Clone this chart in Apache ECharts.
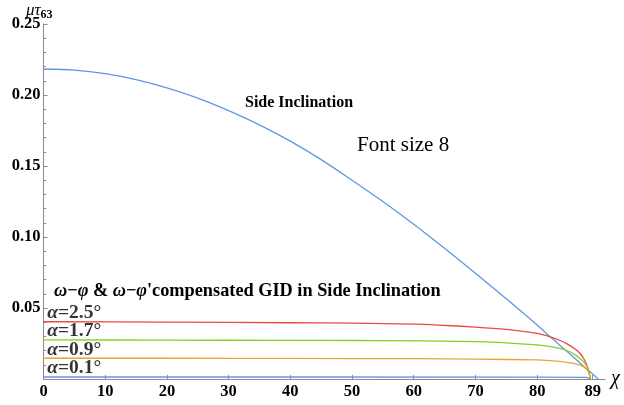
<!DOCTYPE html>
<html>
<head>
<meta charset="utf-8">
<script src="https://cdn.jsdelivr.net/npm/echarts@6/dist/echarts.min.js"></script>
<style>
html,body{margin:0;padding:0;background:#fff;}
#c{width:624px;height:405px;}
</style>
</head>
<body>
<div id="c"></div>
<script>
// ---- data ----
const xTicks = [0, 10, 20, 30, 40, 50, 60, 70, 80, 89];
const yTicks = [0.05, 0.10, 0.15, 0.20, 0.25];

const sideX = [0, 5, 10, 15, 20, 25, 30, 35, 40, 45, 50, 55, 60, 65, 70, 75, 80, 82, 84, 86, 88, 89, 89.9];
const sideY = [0.2183, 0.2175, 0.2150, 0.2108, 0.2050, 0.1978, 0.1890, 0.1790, 0.1675, 0.1545, 0.1400, 0.1250, 0.1090, 0.0920, 0.0745, 0.0565, 0.0380, 0.0302, 0.0225, 0.0150, 0.0070, 0.0035, 0];

const a25X = [0, 20, 40, 50, 60, 64, 70, 75, 80, 82, 84, 85, 86, 86.5, 87, 87.5, 88, 88.3, 88.5, 88.6];
const a25Y = [0.0403, 0.0401, 0.0396, 0.0393, 0.0387, 0.0380, 0.0366, 0.0349, 0.0321, 0.0298, 0.0266, 0.0244, 0.0217, 0.0199, 0.0178, 0.0148, 0.0104, 0.0066, 0.0030, 0];

const a17X = [0, 20, 40, 50, 60, 64, 70, 75, 80, 82, 84, 85, 86, 87, 87.5, 88, 88.3, 88.5, 88.6];
const a17Y = [0.0275, 0.0274, 0.0272, 0.0271, 0.0269, 0.0267, 0.0263, 0.0255, 0.0240, 0.0230, 0.0212, 0.0197, 0.0175, 0.0142, 0.0122, 0.0092, 0.0063, 0.0030, 0];

const a09X = [0, 20, 40, 60, 70, 80, 82, 84, 86, 87, 87.5, 88, 88.3, 88.5, 88.6];
const a09Y = [0.0146, 0.0146, 0.0145, 0.0143, 0.0140, 0.0134, 0.0130, 0.0123, 0.0110, 0.0097, 0.0087, 0.0071, 0.0052, 0.0025, 0];

const a01X = [0, 40, 80, 88, 88.6];
const a01Y = [0.0014, 0.0014, 0.0013, 0.0011, 0];

const alphaLabels = ['2.5°', '1.7°', '0.9°', '0.1°'];
const alphaLabelValues = [0.0468, 0.0335, 0.0206, 0.0078];

function pairs(xs, ys) { return xs.map((x, i) => [x, ys[i]]); }

const serif = "'Liberation Serif','Times New Roman',serif";
const chart = echarts.init(document.getElementById('c'), null, {renderer: 'canvas'});

function lineSeries(xs, ys, color, smooth) {
  return {
    type: 'line', data: pairs(xs, ys), showSymbol: false, symbol: 'none',
    smooth: smooth, lineStyle: {color: color, width: 1.3}, silent: true, animation: false
  };
}

const option = {
  backgroundColor: '#ffffff',
  animation: false,
  grid: {left: 43.5, right: 19, top: 24, bottom: 26},
  xAxis: {
    type: 'value', min: 0, max: 91,
    axisLine: {show: true, lineStyle: {color: '#8c8c8c', width: 1}},
    axisTick: {show: true, inside: true, length: 4, lineStyle: {color: '#8c8c8c'}, customValues: xTicks},
    axisLabel: {customValues: xTicks, color: '#000', fontFamily: serif, fontWeight: 'bold', fontSize: 16.5, margin: 4},
    splitLine: {show: false},
    name: 'χ', nameLocation: 'end', nameGap: 6,
    nameTextStyle: {fontFamily: serif, fontStyle: 'italic', fontSize: 20, color: '#000', verticalAlign: 'middle', padding: [4, 0, 0, 0]}
  },
  yAxis: {
    type: 'value', min: 0, max: 0.25, interval: 0.05,
    axisLine: {show: true, onZero: false, lineStyle: {color: '#8c8c8c', width: 1}},
    axisTick: {show: true, inside: true, length: 4, lineStyle: {color: '#8c8c8c'}},
    minorTick: {show: true, splitNumber: 5, length: 2.5, lineStyle: {color: '#8c8c8c'}},
    axisLabel: {
      customValues: yTicks,
      formatter: v => v.toFixed(2),
      color: '#000', fontFamily: serif, fontWeight: 'bold', fontSize: 16.5, margin: 3
    },
    splitLine: {show: false}
  },
  graphic: [
    {type: 'text', left: 26, top: 2, style: {
      text: '{m|μτ}{s|63}',
      rich: {
        m: {fontFamily: serif, fontStyle: 'italic', fontSize: 17, fill: '#000'},
        s: {fontFamily: serif, fontWeight: 'bold', fontSize: 12, fill: '#000', padding: [9, 0, 0, 0]}
      }
    }},
    {type: 'text', left: 245, top: 95, style: {
      text: 'Side Inclination', fontFamily: serif, fontWeight: 'bold', fontSize: 16, fill: '#000'
    }},
    {type: 'text', left: 357, top: 135, style: {
      text: 'Font size 8', fontFamily: serif, fontSize: 21, fill: '#000'
    }},
    {type: 'text', left: 54, top: 282, style: {
      text: '{i|ω}{b|−}{i|φ}{b| & }{i|ω}{b|−}{i|φ}{b|\'compensated GID in Side Inclination}',
      rich: {
        i: {fontFamily: serif, fontStyle: 'italic', fontWeight: 'bold', fontSize: 18.3, fill: '#000'},
        b: {fontFamily: serif, fontWeight: 'bold', fontSize: 18.3, fill: '#000'}
      }
    }}
  ],
  series: [
    lineSeries(sideX, sideY, '#5f97e3', 0.3),
    lineSeries(a25X, a25Y, '#ec4a3c', 0.25),
    lineSeries(a17X, a17Y, '#86cf24', 0.25),
    lineSeries(a09X, a09Y, '#e9a434', 0.25),
    lineSeries(a01X, a01Y, '#5f97e3', false),
    {
      type: 'scatter', symbolSize: 0, silent: true,
      data: alphaLabelValues.map((v, i) => ({
        value: [0.6, v],
        label: {
          show: true, position: 'right', distance: 0,
          formatter: '{a|α}{b|=' + alphaLabels[i] + '}',
          rich: {
            a: {fontFamily: serif, fontStyle: 'italic', fontWeight: 'bold', fontSize: 19.5, color: '#000'},
            b: {fontFamily: serif, fontWeight: 'bold', fontSize: 19.5, color: '#000'}
          }
        }
      }))
    }
  ]
};
chart.setOption(option);
</script>
</body>
</html>
